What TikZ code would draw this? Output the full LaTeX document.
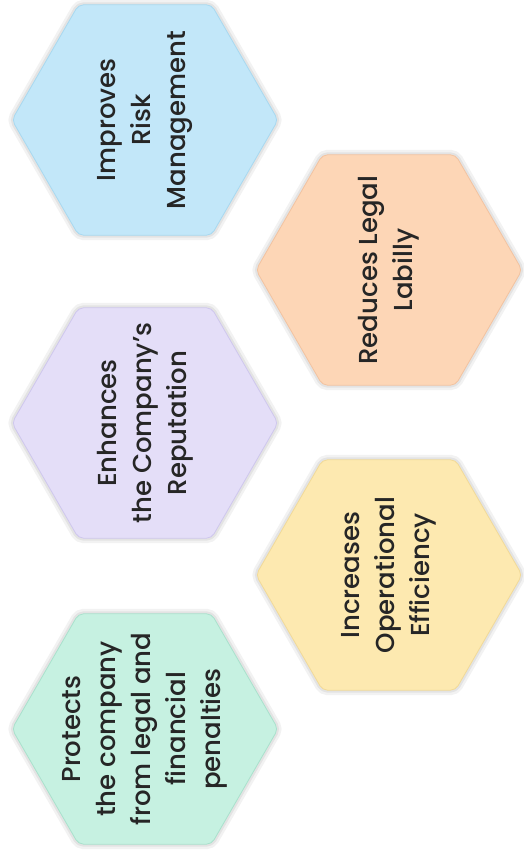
\documentclass[tikz,border=0pt]{standalone}
\usepackage{fontspec}
\setmainfont{Poppins}[BoldFont={* Medium}]
\usetikzlibrary{shapes.geometric}
\definecolor{txt}{HTML}{262626}
\definecolor{blueF}{HTML}{C2E7F9}\definecolor{blueD}{HTML}{A8D9F1}
\definecolor{orangeF}{HTML}{FDD6B6}\definecolor{orangeD}{HTML}{F3C3A0}
\definecolor{purpleF}{HTML}{E4DEF8}\definecolor{purpleD}{HTML}{CFC7EE}
\definecolor{yellowF}{HTML}{FDE9B0}\definecolor{yellowD}{HTML}{F2DA98}
\definecolor{greenF}{HTML}{C6F1E1}\definecolor{greenD}{HTML}{A9E2CD}
\tikzset{
  hexbox/.style={regular polygon, regular polygon sides=6, minimum size=266pt,
    inner sep=0pt, rounded corners=5pt, line width=0.8pt,
    preaction={draw=black, opacity=0.05, line width=10pt},
    preaction={draw=black, opacity=0.06, line width=5pt}},
  hextext/.style={rotate=90, text=txt, align=center, inner sep=0pt,
    font=\fontsize{26}{35}\selectfont\bfseries},
}
\begin{document}
\begin{tikzpicture}[x=1pt,y=1pt]
\useasboundingbox[fill=white] (0,0) rectangle (523,863);
\node[hexbox, fill=blueF, draw=blueD] (risk) at (145,743) {};
\node[hextext] (risk-t) at (risk.center) {Improves\\Risk\\Management};
\node[hexbox, fill=orangeF, draw=orangeD] (legal) at (389,593) {};
\node[hextext] (legal-t) at (legal.center) {Reduces Legal\\Labilly};
\node[hexbox, fill=purpleF, draw=purpleD] (reput) at (145,440) {};
\node[hextext] (reput-t) at (reput.center) {Enhances\\the Company's\\Reputation};
\node[hexbox, fill=yellowF, draw=yellowD] (effic) at (389,288) {};
\node[hextext] (effic-t) at (effic.center) {Increases\\Operational\\Efficiency};
\node[hexbox, fill=greenF, draw=greenD] (protect) at (145,134) {};
\node[hextext] (protect-t) at (protect.center) {Protects\\the company\\from legal and\\financial\\penalties};
\end{tikzpicture}
\end{document}
